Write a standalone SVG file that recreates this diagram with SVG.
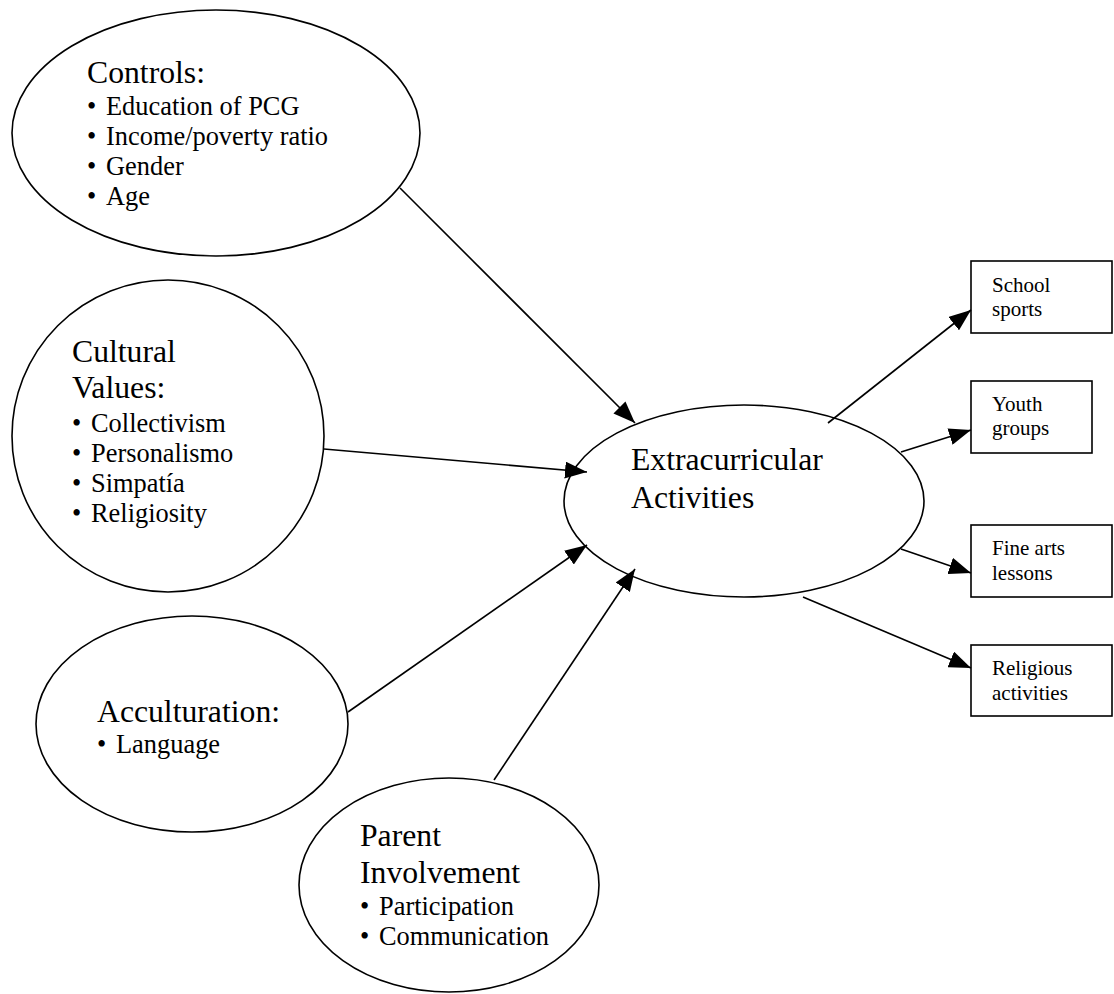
<svg xmlns="http://www.w3.org/2000/svg" width="1114" height="994" viewBox="0 0 1114 994">
<style>
.shape{fill:#fff;stroke:#000;stroke-width:1.6}
.t{font-family:"Liberation Serif","Times New Roman",serif;fill:#000}
.title{font-size:31.7px}
.item{font-size:26.4px}
.box{font-size:21px}
.edge{stroke:#000;stroke-width:1.6;fill:none;marker-end:url(#arr)}
</style>
<defs>
<marker id="arr" viewBox="0 0 22 17" refX="22" refY="8.5" markerWidth="22" markerHeight="17" markerUnits="userSpaceOnUse" orient="auto">
<path d="M0,0 L22,8.5 L0,17 z" fill="#000"/>
</marker>
</defs>
<rect width="1114" height="994" fill="#fff"/>
<g id="controls">
<ellipse class="shape" cx="216" cy="133" rx="204" ry="123"/>
<text class="t title" x="87" y="83">Controls:</text>
<text class="t item" x="87" y="115">•</text><text class="t item" x="106" y="115">Education of PCG</text>
<text class="t item" x="87" y="145">•</text><text class="t item" x="106" y="145">Income/poverty ratio</text>
<text class="t item" x="87" y="175">•</text><text class="t item" x="106" y="175">Gender</text>
<text class="t item" x="87" y="205">•</text><text class="t item" x="106" y="205">Age</text>
</g>
<g id="cultural">
<ellipse class="shape" cx="168" cy="436" rx="156" ry="156"/>
<text class="t title" x="72" y="362">Cultural</text>
<text class="t title" x="72" y="398">Values:</text>
<text class="t item" x="72" y="432">•</text><text class="t item" x="91" y="432">Collectivism</text>
<text class="t item" x="72" y="462">•</text><text class="t item" x="91" y="462">Personalismo</text>
<text class="t item" x="72" y="492">•</text><text class="t item" x="91" y="492">Simpatía</text>
<text class="t item" x="72" y="522">•</text><text class="t item" x="91" y="522">Religiosity</text>
</g>
<g id="acculturation">
<ellipse class="shape" cx="192" cy="724" rx="156" ry="108"/>
<text class="t title" x="97" y="722">Acculturation:</text>
<text class="t item" x="97" y="753">•</text><text class="t item" x="116" y="753">Language</text>
</g>
<g id="parent">
<ellipse class="shape" cx="449" cy="885" rx="150" ry="107"/>
<text class="t title" x="360" y="846">Parent</text>
<text class="t title" x="360" y="883">Involvement</text>
<text class="t item" x="360" y="915">•</text><text class="t item" x="379" y="915">Participation</text>
<text class="t item" x="360" y="945">•</text><text class="t item" x="379" y="945">Communication</text>
</g>
<g id="extracurricular">
<ellipse class="shape" cx="744" cy="501" rx="180" ry="96"/>
<text class="t title" x="631" y="470">Extracurricular</text>
<text class="t title" x="631" y="508">Activities</text>
</g>
<g id="school-sports">
<rect class="shape" x="971" y="261" width="141" height="72"/>
<text class="t box" x="992" y="292">School</text>
<text class="t box" x="992" y="316">sports</text>
</g>
<g id="youth-groups">
<rect class="shape" x="971" y="381" width="121" height="72"/>
<text class="t box" x="992" y="411">Youth</text>
<text class="t box" x="992" y="435">groups</text>
</g>
<g id="fine-arts">
<rect class="shape" x="971" y="525" width="141" height="72"/>
<text class="t box" x="992" y="555">Fine arts</text>
<text class="t box" x="992" y="580">lessons</text>
</g>
<g id="religious">
<rect class="shape" x="971" y="645" width="141" height="71"/>
<text class="t box" x="992" y="675">Religious</text>
<text class="t box" x="992" y="700">activities</text>
</g>
<g id="connectors">
<line class="edge" x1="400" y1="188" x2="635" y2="423"/>
<line class="edge" x1="324" y1="449" x2="587" y2="472"/>
<line class="edge" x1="348" y1="712" x2="587" y2="545"/>
<line class="edge" x1="494" y1="780" x2="635" y2="569"/>
<line class="edge" x1="828" y1="423" x2="971" y2="310"/>
<line class="edge" x1="901" y1="452" x2="971" y2="430"/>
<line class="edge" x1="901" y1="549" x2="971" y2="573"/>
<line class="edge" x1="803" y1="597" x2="971" y2="668"/>
</g>
</svg>
